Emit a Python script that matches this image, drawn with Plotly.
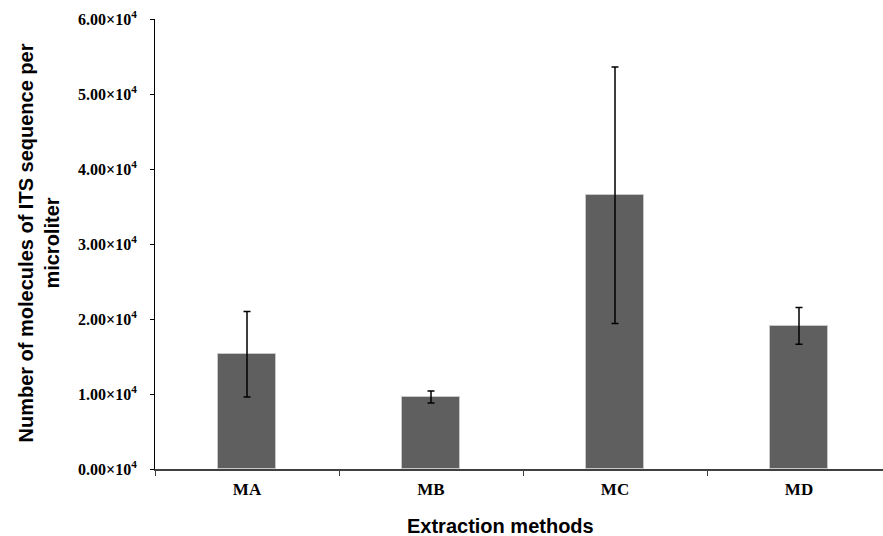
import plotly.graph_objects as go

categories = ["MA", "MB", "MC", "MD"]
means = [15300, 9600, 36500, 19100]
errors = [5700, 800, 17100, 2450]
ytick_vals = [0, 10000, 20000, 30000, 40000, 50000, 60000]
ytick_text = ["0.00×10<sup>4</sup>", "1.00×10<sup>4</sup>", "2.00×10<sup>4</sup>",
              "3.00×10<sup>4</sup>", "4.00×10<sup>4</sup>", "5.00×10<sup>4</sup>",
              "6.00×10<sup>4</sup>"]

L, T, B, W, H = 155, 19, 67, 883, 536
plot_w = W - L
plot_h = H - T - B

fig = go.Figure()
fig.add_trace(go.Bar(
    x=categories, y=means, width=0.32,
    marker=dict(color="#5f5f5f", line=dict(color="#c8c8c8", width=1)),
    error_y=dict(type="data", array=errors, visible=True, color="black",
                 thickness=1.5, width=3.5),
    showlegend=False,
))

fig.update_layout(
    width=W, height=H,
    margin=dict(l=L, r=0, t=T, b=B),
    paper_bgcolor="white", plot_bgcolor="white",
    bargap=0,
    xaxis=dict(
        range=[-0.5, 3.4565], type="category", tickson="boundaries",
        ticks="outside", ticklen=5, tickcolor="#404040",
        showline=True, linecolor="#404040", linewidth=1.5,
        ticklabelstandoff=4,
        tickfont=dict(family="Liberation Serif", size=17, color="black", weight="bold"),
        showgrid=False, zeroline=False,
    ),
    yaxis=dict(
        range=[0, 60000], tickvals=ytick_vals, ticktext=ytick_text,
        ticks="outside", ticklen=4, tickcolor="black",
        showline=True, linecolor="black", linewidth=1,
        ticklabelstandoff=10,
        tickfont=dict(family="Liberation Serif", size=16, color="black", weight="bold"),
        showgrid=False, zeroline=False,
    ),
    annotations=[
        dict(text="<b>Extraction methods</b>", xref="paper", yref="paper",
             x=(500 - L) / plot_w, y=(H - B - 526) / plot_h,
             xanchor="center", yanchor="middle", showarrow=False,
             font=dict(family="Liberation Sans", size=20, color="black")),
        dict(text="<b>Number of molecules of ITS sequence per<br>microliter</b>",
             xref="paper", yref="paper",
             x=(38 - L) / plot_w, y=(H - B - 243.5) / plot_h,
             xanchor="center", yanchor="middle", showarrow=False, textangle=-90,
             font=dict(family="Liberation Sans", size=20, color="black")),
    ],
)

fig.write_html("out.html", config={"displayModeBar": False},
               post_script="document.body.style.margin='0px';")
